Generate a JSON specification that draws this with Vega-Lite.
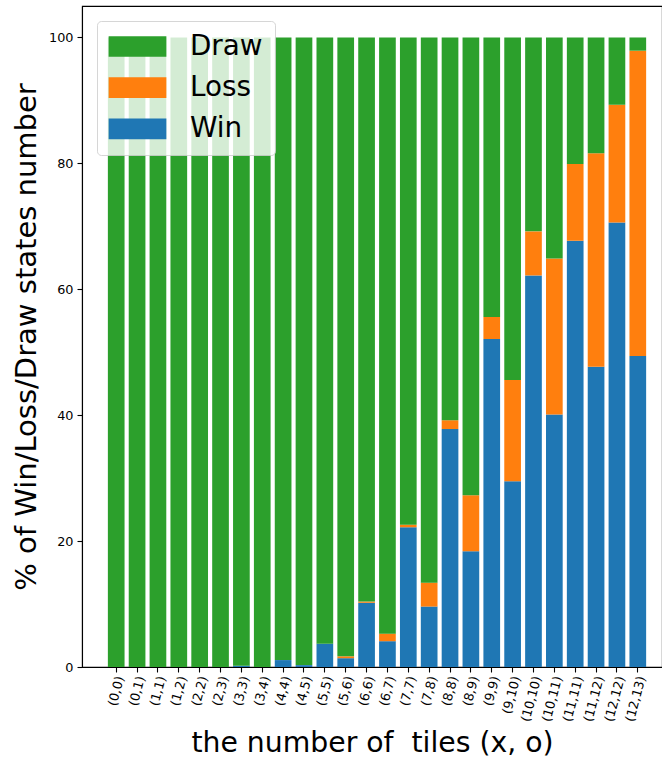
{
  "$schema": "https://vega.github.io/schema/vega-lite/v6.json",
  "autosize": {"type": "none"},
  "padding": {"left": 82, "top": 6, "right": 0, "bottom": 91},
  "width": 580,
  "height": 661,
  "background": "white",
  "config": {
    "font": "DejaVu Sans",
    "view": {"stroke": "black", "strokeWidth": 1.1},
    "axis": {"grid": false, "domainColor": "black", "domainWidth": 1.1, "tickColor": "black", "tickWidth": 1.1, "tickSize": 5, "labelColor": "black", "titleColor": "black", "labelFont": "DejaVu Sans", "titleFont": "DejaVu Sans", "titleFontWeight": "normal", "labelFontSize": 12.8, "titleFontSize": 28.3}
  },
  "data": {
    "values": [
      {"tiles": "(0,0)", "Win": 0, "Loss": 0, "Draw": 100},
      {"tiles": "(0,1)", "Win": 0, "Loss": 0, "Draw": 100},
      {"tiles": "(1,1)", "Win": 0, "Loss": 0, "Draw": 100},
      {"tiles": "(1,2)", "Win": 0, "Loss": 0, "Draw": 100},
      {"tiles": "(2,2)", "Win": 0, "Loss": 0, "Draw": 100},
      {"tiles": "(2,3)", "Win": 0, "Loss": 0, "Draw": 100},
      {"tiles": "(3,3)", "Win": 0.2, "Loss": 0, "Draw": 99.8},
      {"tiles": "(3,4)", "Win": 0, "Loss": 0, "Draw": 100},
      {"tiles": "(4,4)", "Win": 1.1, "Loss": 0, "Draw": 98.9},
      {"tiles": "(4,5)", "Win": 0.3, "Loss": 0, "Draw": 99.7},
      {"tiles": "(5,5)", "Win": 3.7, "Loss": 0, "Draw": 96.3},
      {"tiles": "(5,6)", "Win": 1.4, "Loss": 0.3, "Draw": 98.3},
      {"tiles": "(6,6)", "Win": 10.2, "Loss": 0.2, "Draw": 89.6},
      {"tiles": "(6,7)", "Win": 4.1, "Loss": 1.2, "Draw": 94.7},
      {"tiles": "(7,7)", "Win": 22.2, "Loss": 0.4, "Draw": 77.4},
      {"tiles": "(7,8)", "Win": 9.6, "Loss": 3.8, "Draw": 86.6},
      {"tiles": "(8,8)", "Win": 37.8, "Loss": 1.4, "Draw": 60.8},
      {"tiles": "(8,9)", "Win": 18.4, "Loss": 8.9, "Draw": 72.7},
      {"tiles": "(9,9)", "Win": 52.1, "Loss": 3.5, "Draw": 44.4},
      {"tiles": "(9,10)", "Win": 29.5, "Loss": 16.1, "Draw": 54.4},
      {"tiles": "(10,10)", "Win": 62.2, "Loss": 7.0, "Draw": 30.8},
      {"tiles": "(10,11)", "Win": 40.1, "Loss": 24.8, "Draw": 35.1},
      {"tiles": "(11,11)", "Win": 67.7, "Loss": 12.2, "Draw": 20.1},
      {"tiles": "(11,12)", "Win": 47.7, "Loss": 33.9, "Draw": 18.4},
      {"tiles": "(12,12)", "Win": 70.6, "Loss": 18.7, "Draw": 10.7},
      {"tiles": "(12,13)", "Win": 49.4, "Loss": 48.5, "Draw": 2.1}
    ]
  },
  "transform": [{"fold": ["Win", "Loss", "Draw"], "as": ["outcome", "pct"]}],
  "mark": {"type": "bar"},
  "encoding": {
    "x": {
      "field": "tiles", "type": "nominal", "sort": null,
      "scale": {"paddingInner": 0.2, "paddingOuter": 1.02, "align": 0.62},
      "axis": {"labelAngle": -75, "labelPadding": 4, "labelOffset": 4, "title": "the number of\u00a0 tiles (x, o)", "titlePadding": 7}
    },
    "y": {
      "field": "pct", "type": "quantitative", "stack": "zero",
      "scale": {"domain": [0, 105], "nice": false},
      "axis": {"values": [0, 20, 40, 60, 80, 100], "labelPadding": 4, "title": "% of Win/Loss/Draw states number", "titlePadding": 7, "titleFontSize": 29}
    },
    "color": {
      "field": "outcome", "type": "nominal",
      "scale": {"domain": ["Draw", "Loss", "Win"], "range": ["#2ca02c", "#ff7f0e", "#1f77b4"]},
      "legend": {
        "title": null, "orient": "none", "legendX": 15, "legendY": 15,
        "symbolType": "M-2.79,-1L2.79,-1L2.79,1L-2.79,1Z",
        "symbolSize": 428, "symbolStrokeWidth": 0, "symbolOpacity": 1, "symbolOffset": 15,
        "labelFontSize": 27.8, "labelFont": "DejaVu Sans", "labelColor": "black", "labelOffset": 38.5,
        "rowPadding": 12.2,
        "padding": 11.6, "fillColor": "rgba(255,255,255,0.8)", "strokeColor": "rgba(204,204,204,0.8)", "cornerRadius": 4
      }
    },
    "order": {"field": "outcome", "sort": "descending"}
  }
}
